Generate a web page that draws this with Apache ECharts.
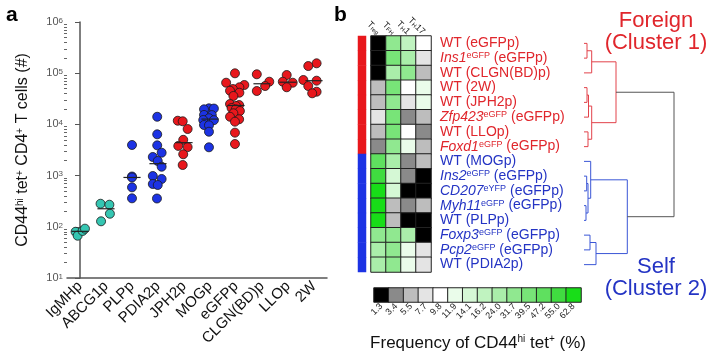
<!DOCTYPE html>
<html>
<head>
<meta charset="utf-8">
<script src="https://cdn.jsdelivr.net/npm/echarts@6/dist/echarts.min.js"></script>
<style>
html, body { margin: 0; padding: 0; background: #fff; }
#chart { width: 714px; height: 359px; }
</style>
</head>
<body>
<div id="chart"></div>
<script>
// ---- panel a: tetramer+ cell counts per peptide ----
const peptides = ['IgMHp', 'ABCG1p', 'PLPp', 'PDIA2p', 'JPH2p', 'MOGp', 'eGFPp', 'CLGN(BD)p', 'LLOp', '2W'];
const peptideGroup = ['low', 'low', 'self', 'self', 'foreign', 'self', 'foreign', 'foreign', 'foreign', 'foreign'];
const cellCounts = [
  [80, 67, 83, 92],
  [282, 270, 180, 128],
  [3960, 960, 920, 590, 360],
  [14100, 6400, 3900, 2800, 2310, 1930, 1490, 982, 859, 685, 655, 357],
  [11800, 11500, 8130, 5000, 3800, 3600, 2610, 1610],
  [20600, 20400, 19700, 15300, 15200, 13200, 12200, 12100, 9730, 9600, 7200, 3570],
  [99500, 65200, 58800, 53000, 49100, 45500, 41600, 35900, 25000, 23900, 22900, 20900, 19700, 18300, 16500, 14100, 12600, 11300, 6890, 4140],
  [95200, 68200, 56200, 44900],
  [92200, 68200, 65200, 53100],
  [156000, 138000, 73700, 71400, 56200, 43500, 40500]
];
// sideways spread of each dot inside its column (category units)
const jitter = [
  [-0.17, -0.09, 0.10, 0.19],
  [-0.21, 0.13, 0.15, -0.19],
  [0, 0, 0, 0, 0],
  [-0.03, -0.03, -0.03, 0.14, -0.2, -0.01, 0.14, -0.2, 0.14, -0.2, -0.01, -0.04],
  [-0.24, -0.05, 0.14, -0.03, -0.22, 0.14, -0.03, -0.05],
  [-0.04, 0.15, -0.23, -0.23, 0.07, -0.04, -0.26, 0.15, -0.23, -0.04, -0.04, -0.04],
  [-0.04, -0.38, 0.32, 0.13, -0.12, -0.23, 0.13, -0.1, -0.23, 0.12, 0, -0.17, -0.01, 0.15, -0.1, -0.23, 0.12, -0.04, -0.04, -0.04],
  [-0.2, 0.28, 0.12, -0.2],
  [-0.05, -0.2, 0.18, -0.05],
  [0.1, -0.22, -0.41, 0.1, -0.22, 0.1, -0.07]
];

// ---- panel b: heat map of T helper subset frequencies ----
const subsets = ['reg', 'FH', 'H1', 'H17'];
const rowStrain = ['WT', 'Ins1', 'WT', 'WT', 'WT', 'Zfp423', 'WT', 'Foxd1', 'WT', 'Ins2', 'CD207', 'Myh11', 'WT', 'Foxp3', 'Pcp2', 'WT'];
const rowReporter = ['', 'eGFP', '', '', '', 'eGFP', '', 'eGFP', '', 'eGFP', 'eYFP', 'eGFP', '', 'eGFP', 'eGFP', ''];
const rowPeptide = ['eGFPp', 'eGFPp', 'CLGN(BD)p', '2W', 'JPH2p', 'eGFPp', 'LLOp', 'eGFPp', 'MOGp', 'eGFPp', 'eGFPp', 'eGFPp', 'PLPp', 'eGFPp', 'eGFPp', 'PDIA2p'];
const rowCluster = [1, 1, 1, 1, 1, 1, 1, 1, 2, 2, 2, 2, 2, 2, 2, 2];
const freq = [
  [1.3, 31.7, 16.2, 9.8],
  [1.3, 39.5, 24.0, 7.7],
  [1.3, 24.0, 31.7, 5.5],
  [5.5, 39.5, 9.8, 11.9],
  [5.5, 31.7, 7.7, 11.9],
  [7.7, 39.5, 3.4, 5.5],
  [5.5, 39.5, 9.8, 3.4],
  [3.4, 31.7, 11.9, 5.5],
  [47.2, 24.0, 3.4, 5.5],
  [55.0, 14.1, 3.4, 1.3],
  [62.8, 14.1, 1.3, 1.3],
  [62.8, 5.5, 3.4, 5.5],
  [62.8, 5.5, 1.3, 1.3],
  [31.7, 31.7, 24.0, 1.3],
  [24.0, 31.7, 11.9, 7.7],
  [24.0, 31.7, 11.9, 7.7]
];
const freqTicks = [1.3, 3.4, 5.5, 7.7, 9.8, 11.9, 14.1, 16.2, 24.0, 31.7, 39.5, 47.2, 55.0, 62.8];
// hierarchical clustering: [child A, child B, height]; leaves are rows 0-15
const linkage = [
  [0, 1, 3], [16, 2, 7.7], [3, 4, 3], [6, 7, 4], [18, 5, 4.5], [20, 19, 7.7], [17, 21, 32],
  [9, 10, 2.7], [11, 12, 2], [23, 24, 4], [8, 25, 6.7], [13, 14, 6], [27, 15, 12], [26, 28, 43.3],
  [22, 29, 90]
];

// ---- styles ----
const FONT = 'Liberation Sans, Arial, sans-serif';
const groupColor = { low: '#35c6b2', self: '#1c33e4', foreign: '#e8171c' };
const freqColors = ['#000000', '#8a8a8a', '#bdbdbd', '#e4e4e4', '#ffffff', '#eafcea', '#d5f8d5', '#c0f3c0', '#aaeeaa', '#90e890', '#78e478', '#5fe05f', '#40dc40', '#18dd18'];
const clusterColor = { 1: '#e8171c', 2: '#1c33e4' };
const textRed = '#e0262c', textBlue = '#2434c4';
const linkColor = ['#555555', '#e2424a', '#3a56d6'];

// scatter points
const scatterData = [];
cellCounts.forEach((vals, i) => {
  vals.forEach((v, j) => {
    scatterData.push({ value: [i + jitter[i][j], v], itemStyle: { color: groupColor[peptideGroup[i]] } });
  });
});
const medians = cellCounts.map((vals, i) => {
  const s = vals.slice().sort((a, b) => a - b);
  const n = s.length;
  return [i, n % 2 ? s[(n - 1) / 2] : (s[n / 2 - 1] + s[n / 2]) / 2];
});
// log minor ticks 2..9 x 10^k
const minorTicks = [];
for (let k = 1; k < 6; k++) for (let m = 2; m < 10; m++) minorTicks.push(m * Math.pow(10, k));

// heat map cells
const heatData = [];
freq.forEach((row, r) => row.forEach((v, c) => heatData.push([c, r, v])));
const clusterData = rowCluster.map((c, r) => [0, r, c]);
const legendData = freqTicks.map((v, i) => [i, 0, v]);
const edges = freqTicks.map((t, i) => i === 0 ? null : (freqTicks[i - 1] + t) / 2);
const pieces = freqTicks.map((t, i) => {
  const p = { color: freqColors[i] };
  if (i > 0) p.gte = edges[i];
  if (i < freqTicks.length - 1) p.lt = edges[i + 1];
  return p;
});

// dendrogram links
const nLeaves = rowStrain.length;
const nodeY = rowStrain.map((_, i) => i);
const nodeH = rowStrain.map(() => 0);
const nodeCl = rowCluster.slice();
const dendroData = linkage.map(([a, b, h]) => {
  const y = (nodeY[a] + nodeY[b]) / 2;
  nodeY.push(y);
  nodeH.push(h);
  const cl = nodeCl[a] === nodeCl[b] ? nodeCl[a] : 0;
  nodeCl.push(cl);
  return [h, y, nodeH[a], nodeY[a], nodeH[b], nodeY[b], cl];
});

function rowLabel(value, r) {
  const t = rowCluster[r] === 1 ? 'r' : 'b';
  if (rowStrain[r] === 'WT') return '{' + t + '|WT (' + rowPeptide[r] + ')}';
  return '{' + t + 'i|' + rowStrain[r] + '}{' + t + 's|' + rowReporter[r] + '}{' + t + '| (' + rowPeptide[r] + ')}';
}

const chart = echarts.init(document.getElementById('chart'));
chart.setOption({
  animation: false,
  textStyle: { fontFamily: FONT },
  graphic: [
    { type: 'text', x: 6, y: 5, style: { text: 'a', font: 'bold 21px ' + FONT, fill: '#000' } },
    { type: 'text', x: 334, y: 5, style: { text: 'b', font: 'bold 21px ' + FONT, fill: '#000' } },
    { type: 'text', x: 656, y: 10, style: { text: 'Foreign\n(Cluster 1)', align: 'center', verticalAlign: 'top', fontSize: 22, lineHeight: 22, fontFamily: FONT, fill: textRed } },
    { type: 'text', x: 656, y: 256, style: { text: 'Self\n(Cluster 2)', align: 'center', verticalAlign: 'top', fontSize: 22, lineHeight: 22, fontFamily: FONT, fill: textBlue } },
    { type: 'text', x: 478, y: 343, style: {
      text: 'Frequency of CD44{sup|hi} tet{sup|+} (%)', align: 'center', verticalAlign: 'middle',
      fontSize: 17, fontFamily: FONT, fill: '#111',
      rich: { sup: { fontSize: 10, verticalAlign: 'top', fontFamily: FONT, fill: '#111' } }
    } }
  ],
  grid: [
    { left: 67, top: 22, width: 260, height: 256 },
    { left: 371, top: 36, width: 60, height: 236 },
    { left: 358, top: 36, width: 8, height: 236 },
    { left: 374, top: 288, width: 207, height: 14 },
    { left: 584, top: 36, width: 100, height: 236 }
  ],
  xAxis: [
    {
      type: 'category', gridIndex: 0, data: peptides,
      axisLine: { lineStyle: { color: '#555', width: 1.5 } },
      axisTick: { show: false },
      axisLabel: { rotate: 45, fontSize: 15, color: '#111', margin: 6, interval: 0 }
    },
    { type: 'value', gridIndex: 0, min: -0.5, max: 9.5, show: false },
    {
      type: 'category', gridIndex: 1, position: 'top', data: subsets,
      axisLine: { show: false }, axisTick: { show: false },
      axisLabel: {
        rotate: 45, margin: 3, fontSize: 9, color: '#111', interval: 0,
        formatter: v => 'T{sub|' + v.replace(/\d+$/, '') + '}' + (v.match(/\d+$/) || [''])[0],
        rich: { sub: { fontSize: 6, verticalAlign: 'bottom', color: '#111' } }
      }
    },
    { type: 'category', gridIndex: 2, data: [''], show: false },
    {
      type: 'category', gridIndex: 3, data: freqTicks.map(v => v.toFixed(1)),
      axisLine: { show: false }, axisTick: { show: false },
      axisLabel: { rotate: 45, margin: 3, fontSize: 9, color: '#222', interval: 0 }
    },
    { type: 'value', gridIndex: 4, min: 0, max: 100, show: false }
  ],
  yAxis: [
    {
      type: 'log', gridIndex: 0, logBase: 10, min: 10, max: 1e6,
      name: 'CD44{sup|hi} tet{sup|+} CD4{sup|+} T cells (#)', nameLocation: 'middle', nameGap: 36,
      nameTextStyle: { fontSize: 16, color: '#111', rich: { sup: { fontSize: 10, verticalAlign: 'top', color: '#111' } } },
      axisLine: { show: true, lineStyle: { color: '#555', width: 1.5 } },
      axisTick: { show: true, length: 5, lineStyle: { color: '#555' } },
      splitLine: { show: false },
      axisLabel: {
        fontSize: 11, color: '#555', margin: 4,
        formatter: v => '10{sup|' + Math.round(Math.log10(v)) + '}',
        rich: { sup: { fontSize: 8, verticalAlign: 'top', color: '#555' } }
      }
    },
    {
      type: 'category', gridIndex: 1, inverse: true, position: 'right', data: rowStrain.map((_, i) => String(i)),
      axisLine: { show: false }, axisTick: { show: false },
      axisLabel: {
        margin: 9, interval: 0, formatter: rowLabel,
        rich: {
          r: { fontSize: 14, color: textRed }, ri: { fontSize: 14, fontStyle: 'italic', color: textRed },
          rs: { fontSize: 9, verticalAlign: 'top', color: textRed },
          b: { fontSize: 14, color: textBlue }, bi: { fontSize: 14, fontStyle: 'italic', color: textBlue },
          bs: { fontSize: 9, verticalAlign: 'top', color: textBlue }
        }
      }
    },
    { type: 'category', gridIndex: 2, inverse: true, data: rowStrain.map((_, i) => String(i)), show: false },
    { type: 'category', gridIndex: 3, data: [''], show: false },
    { type: 'value', gridIndex: 4, inverse: true, min: -0.5, max: nLeaves - 0.5, show: false },
    {
      // minor ticks of the count axis
      type: 'log', gridIndex: 0, logBase: 10, min: 10, max: 1e6, position: 'left',
      axisLine: { show: false }, axisLabel: { show: false }, splitLine: { show: false },
      axisTick: { show: true, length: 3, customValues: minorTicks, lineStyle: { color: '#666' } }
    }
  ],
  visualMap: [
    { type: 'piecewise', show: false, seriesIndex: [2, 4], dimension: 2, pieces: pieces },
    { type: 'piecewise', show: false, seriesIndex: 3, dimension: 2,
      pieces: [{ value: 1, color: clusterColor[1] }, { value: 2, color: clusterColor[2] }] }
  ],
  series: [
    {
      type: 'scatter', xAxisIndex: 1, yAxisIndex: 0, data: scatterData, symbolSize: 9,
      itemStyle: { borderColor: '#1a1a1a', borderWidth: 0.8, opacity: 1 }
    },
    {
      type: 'custom', xAxisIndex: 1, yAxisIndex: 0, data: medians, z: 5,
      renderItem: (params, api) => {
        const a = api.coord([api.value(0) - 0.33, api.value(1)]);
        const b = api.coord([api.value(0) + 0.33, api.value(1)]);
        return { type: 'line', shape: { x1: a[0], y1: a[1], x2: b[0], y2: b[1] }, style: { stroke: '#222', lineWidth: 1.2 } };
      }
    },
    {
      type: 'heatmap', xAxisIndex: 2, yAxisIndex: 1, data: heatData,
      itemStyle: { borderColor: '#222', borderWidth: 1 }, emphasis: { disabled: true }
    },
    {
      type: 'heatmap', xAxisIndex: 3, yAxisIndex: 2, data: clusterData,
      itemStyle: { borderWidth: 0 }, emphasis: { disabled: true }
    },
    {
      type: 'heatmap', xAxisIndex: 4, yAxisIndex: 3, data: legendData,
      itemStyle: { borderColor: '#222', borderWidth: 1 }, emphasis: { disabled: true }
    },
    {
      type: 'custom', xAxisIndex: 5, yAxisIndex: 4, data: dendroData, clip: false,
      encode: { x: 0, y: 1 },
      renderItem: (params, api) => {
        const p1 = api.coord([api.value(2), api.value(3)]);
        const p2 = api.coord([api.value(0), api.value(3)]);
        const p3 = api.coord([api.value(0), api.value(5)]);
        const p4 = api.coord([api.value(4), api.value(5)]);
        return { type: 'polyline', shape: { points: [p1, p2, p3, p4] }, style: { stroke: linkColor[api.value(6)], fill: null, lineWidth: 1 } };
      }
    }
  ]
});
</script>
</body>
</html>
